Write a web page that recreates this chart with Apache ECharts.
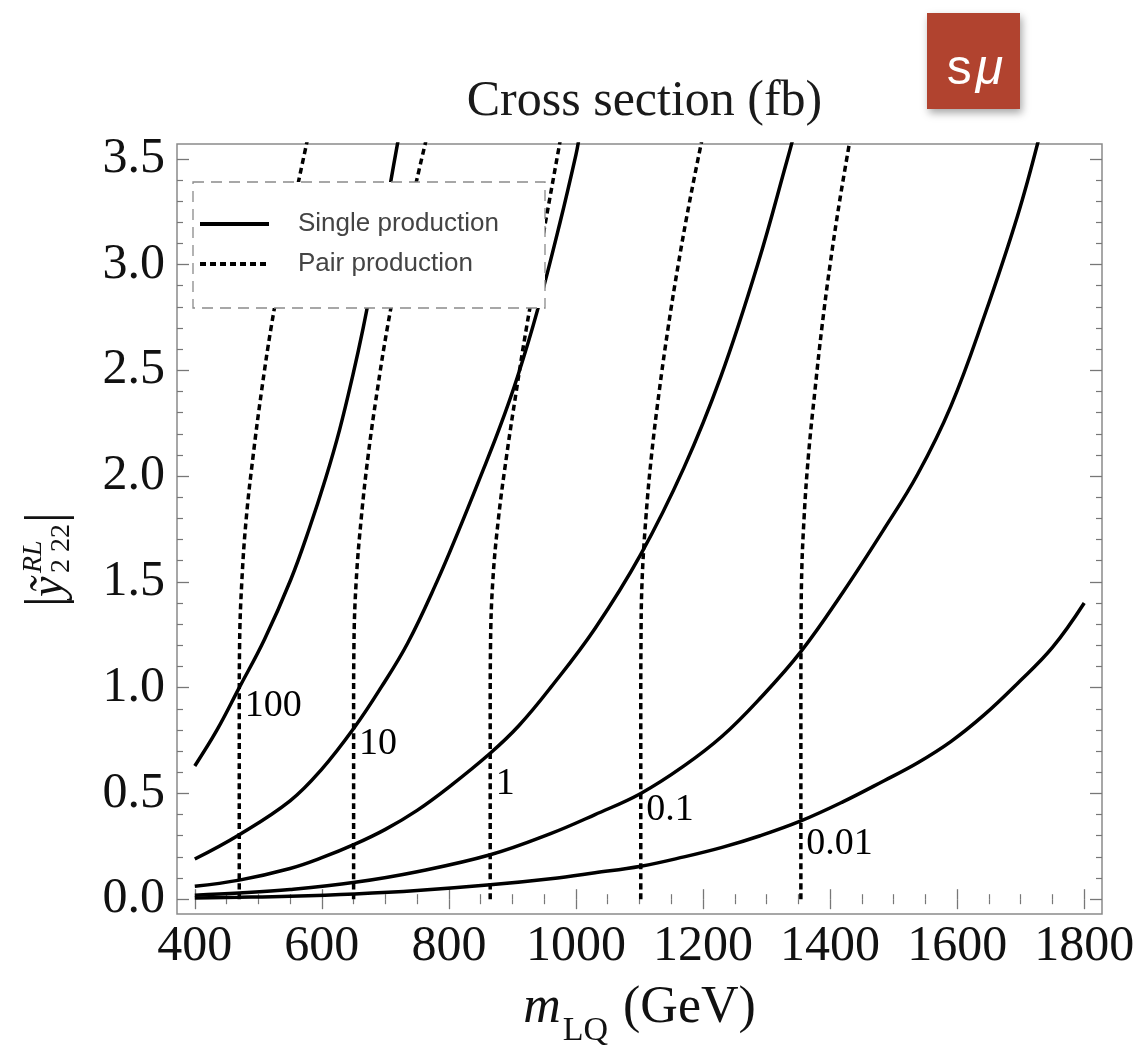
<!DOCTYPE html>
<html>
<head>
<meta charset="utf-8">
<script src="https://cdn.jsdelivr.net/npm/echarts@6/dist/echarts.min.js"></script>
<style>
  html, body { margin: 0; padding: 0; background: #fff; }
  #chart { width: 1141px; height: 1048px; }
</style>
</head>
<body>
<div id="chart"></div>
<script>
// Contours of constant leptoquark cross section in the (m_LQ, |y|) plane.

// Axis ticks
const massTicks = [400, 600, 800, 1000, 1200, 1400, 1600, 1800];
const couplingTicks = [0.0, 0.5, 1.0, 1.5, 2.0, 2.5, 3.0, 3.5];

// Cross-section value of each contour (fb)
const sigmaLabels = ['100', '10', '1', '0.1', '0.01'];

// Single production contours: [mass (GeV), coupling]
const single100 = [[400,0.63],[435,0.8],[470,1.0],[510,1.23],[551,1.51],[580,1.75],[606,1.99],[628,2.22],[649,2.48],[665,2.7],[680,2.93],[697,3.2],[713,3.47],[722,3.62]];
const single10 = [[400,0.19],[470,0.305],[550,0.465],[600,0.615],[652,0.815],[693,1.0],[735,1.21],[781,1.5],[815,1.74],[850,2.0],[880,2.23],[908,2.47],[939,2.78],[975,3.2],[1000,3.52],[1005,3.6]];
const single1 = [[400,0.061],[470,0.09],[550,0.145],[600,0.196],[652,0.26],[700,0.33],[750,0.42],[800,0.53],[865,0.69],[910,0.82],[960,1.0],[1030,1.28],[1102,1.63],[1170,2.04],[1228,2.47],[1286,3.0],[1333,3.5],[1342,3.6]];
const single01 = [[400,0.019],[470,0.029],[550,0.046],[652,0.08],[750,0.13],[865,0.21],[960,0.31],[1030,0.4],[1102,0.5],[1170,0.63],[1230,0.77],[1290,0.95],[1354,1.17],[1420,1.45],[1485,1.75],[1538,2.01],[1590,2.33],[1642,2.75],[1695,3.23],[1729,3.6]];
const single001 = [[400,0.006],[470,0.009],[550,0.014],[652,0.025],[750,0.041],[865,0.068],[960,0.097],[1030,0.125],[1102,0.156],[1170,0.2],[1230,0.245],[1290,0.3],[1354,0.37],[1420,0.46],[1485,0.56],[1538,0.645],[1590,0.745],[1642,0.87],[1695,1.02],[1750,1.19],[1800,1.4]];

// Pair production contours: [mass (GeV), coupling]
const pair100 = [[470,0],[470,0.3],[470,0.6],[470,0.9],[470.5,1.2],[474,1.5],[481,1.8],[492,2.1],[505,2.4],[520,2.7],[538,3.0],[557,3.3],[578,3.6]];
const pair10 = [[650,0],[650,0.3],[650,0.6],[650,0.9],[650.5,1.2],[654,1.5],[662,1.8],[673,2.1],[687,2.4],[703,2.7],[722,3.0],[742,3.3],[765,3.6]];
const pair1 = [[865,0],[865,0.3],[865,0.6],[865,0.9],[865.5,1.2],[869,1.5],[878,1.8],[891,2.1],[906,2.4],[922,2.7],[940,3.0],[958,3.3],[976,3.6]];
const pair01 = [[1102,0],[1102,0.3],[1102,0.6],[1102,0.9],[1102.3,1.2],[1104,1.5],[1110,1.8],[1119,2.1],[1131,2.4],[1145,2.7],[1161,3.0],[1179,3.3],[1199,3.6]];
const pair001 = [[1354,0],[1354,0.3],[1354,0.6],[1354,0.9],[1354.2,1.2],[1355,1.5],[1359,1.8],[1366,2.1],[1376,2.4],[1387,2.7],[1400,3.0],[1415,3.3],[1432,3.6]];

// Where each cross-section tag sits: mass and coupling
const labelMass = [470, 650, 865, 1102, 1354];
const labelCoupling = [1.0, 0.82, 0.63, 0.51, 0.35];

// ---- layout ----
const frame = { left: 177, top: 144, width: 925, height: 770 };
const padRatio = 0.02;                       // plot range padding on each side
const padFrac = padRatio / (1 + 2 * padRatio);
const inner = {
  left: frame.left + frame.width * padFrac,
  top: frame.top + frame.height * padFrac,
  width: frame.width / (1 + 2 * padRatio),
  height: frame.height / (1 + 2 * padRatio)
};
const xOff = frame.height * padFrac;
const yOff = frame.width * padFrac;

const xMin = massTicks[0], xMax = massTicks[massTicks.length - 1];
const yMin = couplingTicks[0], yMax = couplingTicks[couplingTicks.length - 1];
const xPad = (xMax - xMin) * padRatio, yPad = (yMax - yMin) * padRatio;

const tickColor = '#777';
const serif = 'Liberation Serif';

function tickAxis(extra) {
  return Object.assign({
    gridIndex: 0,
    type: 'value',
    axisLine: { show: false },
    splitLine: { show: false },
    axisTick: { show: true, inside: true, length: 10, lineStyle: { color: tickColor, width: 1.3 } },
    minorTick: { show: true, length: 5, lineStyle: { color: tickColor, width: 1.2 } },
    axisLabel: { show: false }
  }, extra);
}

const xTickBase = { min: xMin, max: xMax, interval: massTicks[1] - massTicks[0], offset: xOff };
const yTickBase = { min: yMin, max: yMax, interval: couplingTicks[1] - couplingTicks[0], offset: yOff };

const solidStyle = { color: '#000', width: 3.5, type: 'solid' };
const dotStyle = { color: '#000', width: 3.5, type: [6, 4] };

const singleSeries = [single100, single10, single1, single01, single001].map(d => ({
  type: 'line', name: 'Single production', xAxisIndex: 2, yAxisIndex: 2,
  data: d, symbol: 'none', smooth: 0.4,
  lineStyle: solidStyle, itemStyle: { color: '#000' }, z: 2
}));
const pairSeries = [pair100, pair10, pair1, pair01, pair001].map(d => ({
  type: 'line', name: 'Pair production', xAxisIndex: 2, yAxisIndex: 2,
  data: d, symbol: 'none', smooth: 0.4,
  lineStyle: dotStyle, itemStyle: { color: '#000' }, z: 2
}));

const tagSeries = {
  type: 'scatter', xAxisIndex: 2, yAxisIndex: 2, silent: true, z: 5,
  symbolSize: 1, itemStyle: { color: 'rgba(0,0,0,0)' },
  data: labelMass.map((m, i) => ({ value: [m, labelCoupling[i]], name: sigmaLabels[i] })),
  label: {
    show: true, formatter: '{b}', position: [6, 0], align: 'left', verticalAlign: 'top',
    fontFamily: serif, fontSize: 38, color: '#000', opacity: 1
  }
};

const chart = echarts.init(document.getElementById('chart'), null, { renderer: 'canvas' });

chart.setOption({
  animation: false,
  backgroundColor: '#fff',
  title: {
    text: 'Cross section (fb)',
    left: frame.left + frame.width / 2,
    textAlign: 'center',
    top: 72,
    textStyle: { fontFamily: serif, fontSize: 50, fontWeight: 'normal', color: '#1a1a1a' }
  },
  legend: {
    data: ['Single production', 'Pair production'],
    orient: 'vertical',
    left: 198, top: 211, padding: 0,
    itemWidth: 69, itemHeight: 28, itemGap: 14,
    selectedMode: false,
    itemStyle: { opacity: 0, borderWidth: 0 },
    lineStyle: { width: 4 },
    textStyle: { fontFamily: 'Liberation Sans', fontSize: 26, color: '#444', padding: [0, 0, 0, 24] },
    z: 4
  },
  grid: [
    Object.assign({ show: false, outerBoundsMode: 'none' }, inner),
    Object.assign({ show: true, borderColor: '#8a8a8a', borderWidth: 1.5, backgroundColor: 'rgba(0,0,0,0)', outerBoundsMode: 'none' }, frame)
  ],
  xAxis: [
    tickAxis(Object.assign({}, xTickBase, {
      position: 'bottom',
      minorTick: { show: true, splitNumber: 4, length: 5, lineStyle: { color: tickColor, width: 1.2 } },
      axisLabel: { show: true, margin: 8, fontFamily: serif, fontSize: 50, color: '#111', formatter: v => String(v) },
      name: '{m|m}{s|LQ}{u| (GeV)}',
      nameLocation: 'middle',
      nameGap: 68,
      nameTextStyle: {
        rich: {
          m: { fontFamily: serif, fontStyle: 'italic', fontSize: 52, color: '#111', lineHeight: 60, verticalAlign: 'top' },
          s: { fontFamily: serif, fontSize: 34, color: '#111', lineHeight: 34, padding: [32, 2, 0, 2], verticalAlign: 'top' },
          u: { fontFamily: serif, fontSize: 52, color: '#111', lineHeight: 60, verticalAlign: 'top' }
        }
      }
    })),
    tickAxis(Object.assign({}, xTickBase, {
      position: 'top',
      minorTick: { show: true, splitNumber: 4, length: 5, lineStyle: { color: tickColor, width: 1.2 } }
    })),
    { gridIndex: 1, type: 'value', min: xMin - xPad, max: xMax + xPad, show: false }
  ],
  yAxis: [
    tickAxis(Object.assign({}, yTickBase, {
      position: 'left',
      axisTick: { show: true, inside: true, length: 12, lineStyle: { color: tickColor, width: 1.3 } },
      minorTick: { show: true, splitNumber: 5, length: 6, lineStyle: { color: tickColor, width: 1.2 } },
      axisLabel: { show: true, margin: 12, fontFamily: serif, fontSize: 50, color: '#111', formatter: v => v.toFixed(1) }
    })),
    tickAxis(Object.assign({}, yTickBase, {
      position: 'right',
      axisTick: { show: true, inside: true, length: 12, lineStyle: { color: tickColor, width: 1.3 } },
      minorTick: { show: true, splitNumber: 5, length: 6, lineStyle: { color: tickColor, width: 1.2 } }
    })),
    { gridIndex: 1, type: 'value', min: yMin - yPad, max: yMax + yPad, show: false }
  ],
  graphic: [
    // dashed legend frame
    {
      type: 'rect', z: 3,
      shape: { x: 193, y: 182, width: 352, height: 126 },
      style: { fill: '#fff', stroke: '#8a8a8a', lineWidth: 1.3, lineDash: [11, 7] }
    },
    // vertical axis title |ỹ^{RL}_{2 22}|
    {
      type: 'group', x: 48, y: 607, rotation: Math.PI / 2,
      children: [
        { type: 'text', x: 0, y: 0, style: { text: '|', fontFamily: serif, fontSize: 54, fill: '#111', verticalAlign: 'middle' } },
        { type: 'text', x: 10, y: 2, style: { text: 'ỹ', fontFamily: serif, fontStyle: 'italic', fontSize: 46, fill: '#111', verticalAlign: 'middle' } },
        { type: 'text', x: 34, y: -14, style: { text: 'RL', fontFamily: serif, fontStyle: 'italic', fontSize: 28, fill: '#111', verticalAlign: 'middle' } },
        { type: 'text', x: 34, y: 14, style: { text: '2 22', fontFamily: serif, fontSize: 28, fill: '#111', verticalAlign: 'middle' } },
        { type: 'text', x: 84, y: 0, style: { text: '|', fontFamily: serif, fontSize: 54, fill: '#111', verticalAlign: 'middle' } }
      ]
    },
    // badge
    {
      type: 'rect',
      shape: { x: 927, y: 13, width: 93, height: 96 },
      style: { fill: '#B1432F', shadowBlur: 8, shadowOffsetX: 2, shadowOffsetY: 4, shadowColor: 'rgba(0,0,0,0.35)' }
    },
    {
      type: 'text', x: 975, y: 70,
      style: {
        text: '{a|s}{b|μ}', align: 'center', verticalAlign: 'middle',
        rich: {
          a: { fontFamily: 'Liberation Sans', fontSize: 50, fill: '#fff', padding: [0, 4, 0, 0] },
          b: { fontFamily: 'Liberation Sans', fontStyle: 'italic', fontSize: 50, fill: '#fff' }
        }
      }
    }
  ],
  series: singleSeries.concat(pairSeries, [tagSeries])
});
</script>
</body>
</html>
